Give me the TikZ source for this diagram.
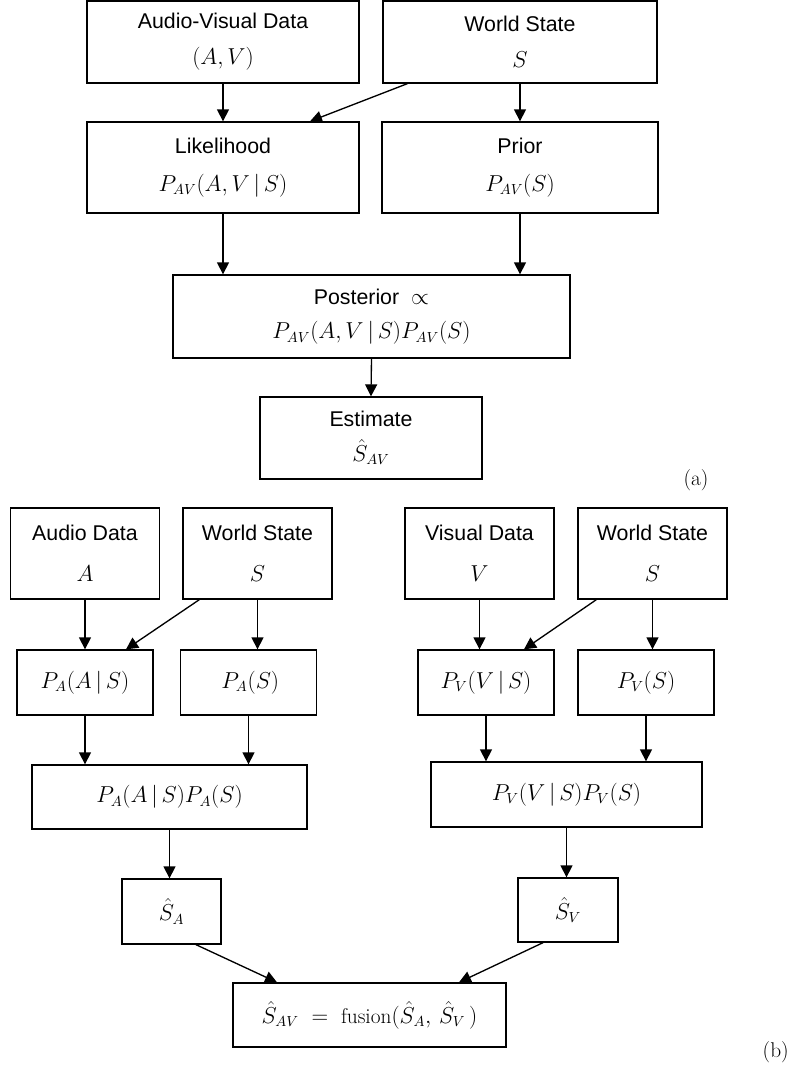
\documentclass[tikz,border=0pt]{standalone}
\usepackage{amsmath,amssymb}
\usepackage{fontspec}
\setsansfont{Liberation Sans}
\usepackage{tikz}
\usetikzlibrary{calc,arrows.meta,positioning}

\begin{document}
\begin{tikzpicture}[x=0.75pt, y=-0.75pt,
    every node/.style={font=\fontsize{16}{19}\selectfont\sffamily},
    box/.style={draw, line width=1pt, inner sep=0pt, align=center},
    >={Triangle[length=9pt,width=9pt]}]
\useasboundingbox (0,0) rectangle (789,1072);

% (a) joint audio-visual estimate
\node[box, minimum width=204pt, minimum height=61.5pt] (av) at (223,42) {Audio-Visual Data\\[8pt]$(A,V)$};
\node[box, minimum width=205.5pt, minimum height=61.5pt] (ws) at (520,42) {World State\\[8pt]$S$};
\node[box, minimum width=204pt, minimum height=68.25pt] (lik) at (223,167.5) {Likelihood\\[9pt]$P_{AV}(A,V\,|\,S)$};
\node[box, minimum width=207pt, minimum height=68.25pt] (prior) at (520,167.5) {Prior\\[9pt]$P_{AV}(S)$};
\node[box, minimum width=297.75pt, minimum height=62.25pt] (post) at (371.5,316.5) {Posterior\hspace{9pt}$\propto$\\[7pt]$P_{AV}(A,V\,|\,S)P_{AV}(S)$};
\node[box, minimum width=166.5pt, minimum height=61.5pt] (est) at (371,438) {Estimate\\[7pt]$\hat{S}_{AV}$};
\node[font=\fontsize{16}{19}\selectfont\rmfamily] (lbla) at (696,480) {(a)};

\draw[line width=1pt, ->] (av.south) -- (lik.north);
\draw[line width=1pt, ->] (ws.south) -- (prior.north);
\draw[line width=1pt, ->] ($(ws.south west)+(25,0)$) -- ($(lik.north)+(87,0)$);
\draw[line width=1pt, ->] (lik.south) -- (lik.south |- post.north);
\draw[line width=1pt, ->] (prior.south) -- (prior.south |- post.north);
\draw[line width=1pt, ->] (post.south) -- (est.north);

% (b) separate audio and visual estimates, then fusion
\node[box, minimum width=111.75pt, minimum height=68.25pt] (ad) at (85,553.5) {Audio Data\\[12pt]$A$};
\node[box, minimum width=111.75pt, minimum height=68.25pt] (wsA) at (257.5,553.5) {World State\\[12pt]$S$};
\node[box, minimum width=111.75pt, minimum height=68.25pt] (vd) at (479.5,553.5) {Visual Data\\[12pt]$V$};
\node[box, minimum width=111.75pt, minimum height=68.25pt] (wsV) at (652.5,553.5) {World State\\[12pt]$S$};

\node[box, minimum width=102pt, minimum height=48.75pt] (likA) at (85,682.5) {$P_{A}(A\,|\,S)$};
\node[box, minimum width=102pt, minimum height=48.75pt] (priA) at (248.5,682.5) {\,$P_{A}(S)$};
\node[box, minimum width=102pt, minimum height=48.75pt] (likV) at (486,682.5) {$P_{V}(V\,|\,S)$};
\node[box, minimum width=102pt, minimum height=48.75pt] (priV) at (646,682.5) {$P_{V}(S)$};

\node[box, minimum width=206.25pt, minimum height=48pt] (postA) at (169.5,797) {$P_{A}(A\,|\,S)P_{A}(S)$};
\node[box, minimum width=203.25pt, minimum height=48.75pt] (postV) at (566.5,794.5) {$P_{V}(V\,|\,S)P_{V}(S)$};

\node[box, minimum width=74.25pt, minimum height=48.75pt] (estA) at (171.5,911.5) {$\hat{S}_{A}$};
\node[box, minimum width=75pt, minimum height=48pt] (estV) at (568,910) {$\hat{S}_{V}$};

\node[box, minimum width=204.75pt, minimum height=48pt] (fus) at (369.5,1015) {$\hat{S}_{AV}\;=\;\mathrm{fusion}(\hat{S}_{A},\,\hat{S}_{V}\,)$};
\node[font=\fontsize{16}{19}\selectfont\rmfamily, anchor=east, inner sep=0pt] (lblb) at (789,1052) {(b)};

\draw[line width=1pt, ->] (ad.south) -- (ad.south |- likA.north);
\draw[line width=1pt, ->] (wsA.south) -- (wsA.south |- priA.north);
\draw[line width=1pt, ->] ($(wsA.south west)+(17,0)$) -- ($(likA.north)+(41,0)$);
\draw[line width=1pt, ->] (likA.south) -- (likA.south |- postA.north);
\draw[line width=1pt, ->] (priA.south) -- (priA.south |- postA.north);
\draw[line width=1pt, ->] (postA.south) -- (postA.south |- estA.north);

\draw[line width=1pt, ->] (vd.south) -- (vd.south |- likV.north);
\draw[line width=1pt, ->] (wsV.south) -- (wsV.south |- priV.north);
\draw[line width=1pt, ->] ($(wsV.south west)+(19,0)$) -- ($(likV.north)+(38,0)$);
\draw[line width=1pt, ->] (likV.south) -- (likV.south |- postV.north);
\draw[line width=1pt, ->] (priV.south) -- (priV.south |- postV.north);
\draw[line width=1pt, ->] (postV.south) -- (postV.south |- estV.north);

\draw[line width=1pt, ->] ($(estA.south)+(24.5,0)$) -- ($(fus.north)+(-92.5,0)$);
\draw[line width=1pt, ->] ($(estV.south)+(-25,0)$) -- ($(fus.north)+(89.5,0)$);

\end{tikzpicture}
\end{document}
